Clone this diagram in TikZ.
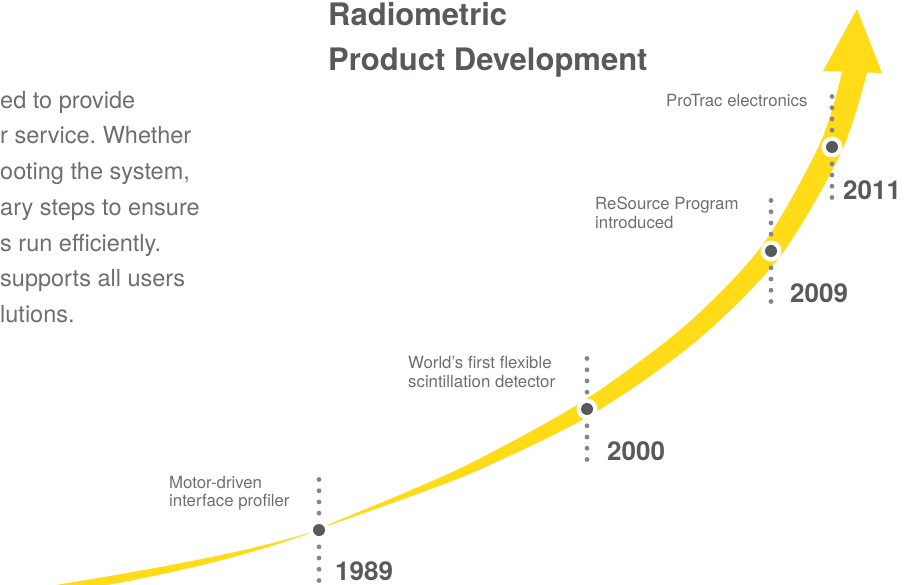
\documentclass[tikz,border=0pt]{standalone}
\usepackage{fontspec}
\setmainfont{TeX Gyre Heros}
\usetikzlibrary{calc}
\frenchspacing

\definecolor{swooshyellow}{HTML}{FFDC17}
\definecolor{darkgray}{HTML}{58595B}
\definecolor{textgray}{HTML}{6D6E71}
\definecolor{dotgray}{HTML}{85868A}

\tikzset{
	swoosh/.style={fill=swooshyellow},
	body/.style={anchor=base west, inner sep=0pt, text=textgray, font=\fontsize{23.5}{28}\selectfont},
	heading/.style={anchor=base west, inner sep=0pt, text=darkgray, font=\fontsize{31}{36}\selectfont\bfseries},
	event/.style={anchor=base west, inner sep=0pt, text=textgray, font=\fontsize{16.8}{20}\selectfont},
	year/.style={anchor=base west, inner sep=0pt, text=darkgray, font=\fontsize{26}{30}\selectfont\bfseries},
	dotline/.style={dotgray, line width=4.8pt, line cap=round, dash pattern=on 0pt off 11.22pt},
	ring/.style={fill=white},
	bigdot/.style={fill=darkgray},
}

\begin{document}
\begin{tikzpicture}[x=1pt, y=-1pt]
			\useasboundingbox (0,0) rectangle (909,585);
			% Specify the positions of the milestones:
			\coordinate (M1989) at (319, 530);
			\coordinate (M2000) at (587, 409);
			\coordinate (M2009) at (771, 251);
			\coordinate (M2011) at (832, 147);
			% Draw the tail of the swoosh:
			\fill[swoosh] (25,590) .. controls (150,570) and (250,552) .. (318,530)
				.. controls (250,556) and (150,580) .. (40,596) -- cycle;
			% Draw the rising arrow:
			\fill[swoosh] plot[smooth] coordinates {(322,527) (407.9,491.4) (477.7,459.6) (582.5,401.4)
					(683.8,326.8) (762.2,245.3) (820.5,142.4) (842,71.5)}
				-- (823,71) -- (857,9) -- (882,73)
				-- plot[smooth] coordinates {(867,72.5) (841.5,151.6) (779.8,256.7) (696.2,341.2)
					(591.5,414.6) (482.3,468.4) (410.1,496.6) (323,527.4)} -- cycle;
			% Draw dotted lines and milestone dots:
			\foreach \m in {M1989, M2000, M2009, M2011} {
				\draw[dotline] ($(\m)+(0,-50.5)$) -- ($(\m)+(0,50.5)$);
				\fill[ring] (\m) circle[radius=10.5pt];
				\fill[bigdot] (\m) circle[radius=6pt];
			}
			% Specify the position of the titles:
			\node[heading] (title1) at (328, 26) {Radiometric};
			\node[heading] (title2) at (328, 71) {Product Development};
			% Specify the position of the body text:
			\foreach \t [count=\i] in {{ed to provide},{r service. Whether},{ooting the system,},{ary steps to ensure},{s run efficiently.},{supports all users},{lutions.}}
				\node[body] (body\i) at (0, {72.6+35.7*\i}) {\t};
			% Specify the position of the milestone texts:
			\node[event] (e1989a) at (169, 488.3) {Motor-driven};
			\node[event] (e1989b) at (169, 506.7) {interface profiler};
			\node[event] (e2000a) at (408, 368.3) {World’s first flexible};
			\node[event] (e2000b) at (408, 387.3) {scintillation detector};
			\node[event] (e2009a) at (595, 209.3) {ReSource Program};
			\node[event] (e2009b) at (595, 228.3) {introduced};
			\node[event] (e2011) at (666, 106.7) {ProTrac electronics};
			% Specify the position of the years:
			\node[year] (y1989) at (335, 580.5) {1989};
			\node[year] (y2000) at (607, 460) {2000};
			\node[year] (y2009) at (790, 302) {2009};
			\node[year] (y2011) at (843, 200) {2011};
		\end{tikzpicture}
\end{document}
